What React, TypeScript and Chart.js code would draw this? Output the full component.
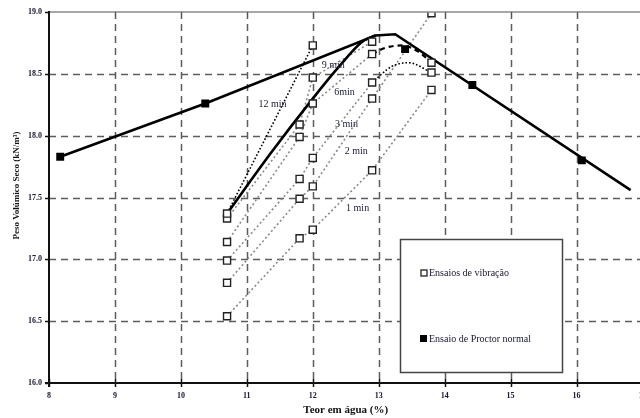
import React, { useEffect, useRef } from "react";
import { Chart, registerables } from "chart.js";

Chart.register(...registerables);

// ---------- data ----------
const xTicks = [8, 9, 10, 11, 12, 13, 14, 15, 16, 17];
const yTicks = [16.0, 16.5, 17.0, 17.5, 18.0, 18.5, 19.0];

const xTitle = "Teor em água (%)";
const yTitle = "Peso Volúmico Seco (kN/m³)";
const legendLabels = ["Ensaios de vibração", "Ensaio de Proctor normal"];

// Ensaio de Proctor normal (points and curve)
const proctorX = [8.17, 10.37, 13.4, 14.42, 16.08];
const proctorY = [17.83, 18.26, 18.7, 18.41, 17.8];
const proctorCurveX = [8.17, 10.37, 12.95, 13.25, 16.82];
const proctorCurveY = [17.83, 18.26, 18.81, 18.82, 17.56];

// thick curve joining the vibration optimum
const envelopeX = [10.7, 11.35, 12.0, 12.4, 12.75, 12.95];
const envelopeY = [17.37, 17.85, 18.3, 18.56, 18.76, 18.81];

// Ensaios de vibração
const min1X = [10.7, 11.8, 12.0, 12.9, 13.8];
const min1Y = [16.54, 17.17, 17.24, 17.72, 18.37];
const min2X = [10.7, 11.8, 12.0, 12.9, 13.8];
const min2Y = [16.81, 17.49, 17.59, 18.3, 18.99];
const min3X = [10.7, 11.8, 12.0, 12.9, 13.8];
const min3Y = [16.99, 17.65, 17.82, 18.43, 18.51];
const min3FitX = [12.9, 13.2, 13.45, 13.8];
const min3FitY = [18.43, 18.56, 18.59, 18.51];
const min6X = [10.7, 11.8, 12.0, 12.9, 13.8];
const min6Y = [17.14, 17.99, 18.26, 18.66, 18.59];
const min6FitX = [12.9, 13.1, 13.35, 13.6, 13.8];
const min6FitY = [18.66, 18.71, 18.73, 18.68, 18.59];
const min9X = [10.7, 11.8, 12.0, 12.9];
const min9Y = [17.33, 18.09, 18.47, 18.76];
const min12X = [10.7, 12.0];
const min12Y = [17.37, 18.73];

const curveLabels = ["12 min", "9 min", "6min", "3 min", "2 min", "1 min"];
const curveLabelX = [11.39, 12.31, 12.48, 12.51, 12.66, 12.68];
const curveLabelY = [18.25, 18.57, 18.35, 18.09, 17.87, 17.41];

// ---------- helpers ----------
const pts = (xs: number[], ys: number[]) => xs.map((x, i) => ({ x, y: ys[i] }));

const lineDs = (xs: number[], ys: number[], color: string, dash: number[], width: number, smooth = false) => ({
  data: pts(xs, ys),
  showLine: true,
  borderColor: color,
  borderWidth: width,
  borderDash: dash,
  borderCapStyle: "butt",
  pointRadius: 0,
  pointHoverRadius: 0,
  tension: smooth ? 0.4 : 0,
  cubicInterpolationMode: smooth ? "monotone" : "default",
  fill: false,
});

const SERIF = "'Liberation Serif', 'DejaVu Serif', serif";

const decor = {
  id: "decor",
  beforeDatasetsDraw(chart: any) {
    const { ctx, chartArea: a, scales } = chart;
    const x = scales.x;
    const y = scales.y;
    ctx.save();
    ctx.strokeStyle = "#5c5c5c";
    ctx.lineWidth = 1.5;
    ctx.setLineDash([7, 5]);
    for (const v of xTicks) {
      if (v <= xTicks[0]) continue;
      const px = Math.round(x.getPixelForValue(v)) + 0.5;
      ctx.beginPath();
      ctx.moveTo(px, a.top);
      ctx.lineTo(px, a.bottom);
      ctx.stroke();
    }
    for (const v of yTicks) {
      if (v <= yTicks[0] || v >= yTicks[yTicks.length - 1]) continue;
      const py = Math.round(y.getPixelForValue(v)) + 0.5;
      ctx.beginPath();
      ctx.moveTo(a.left, py);
      ctx.lineTo(a.right, py);
      ctx.stroke();
    }
    ctx.restore();
  },
  afterDatasetsDraw(chart: any) {
    const { ctx, chartArea: a, scales } = chart;
    const x = scales.x;
    const y = scales.y;
    ctx.save();
    ctx.setLineDash([]);

    // top border (gray) with inner ticks
    ctx.strokeStyle = "#8a8a8a";
    ctx.lineWidth = 1.5;
    ctx.beginPath();
    ctx.moveTo(a.left, a.top);
    ctx.lineTo(a.right, a.top);
    ctx.stroke();
    ctx.strokeStyle = "#555";
    ctx.lineWidth = 1;
    for (const v of xTicks) {
      const px = Math.round(x.getPixelForValue(v)) + 0.5;
      ctx.beginPath();
      ctx.moveTo(px, a.top);
      ctx.lineTo(px, a.top + 5);
      ctx.stroke();
    }

    // left axis
    ctx.strokeStyle = "#111";
    ctx.lineWidth = 2;
    ctx.beginPath();
    ctx.moveTo(a.left, a.top - 1);
    ctx.lineTo(a.left, a.bottom + 4);
    ctx.stroke();
    ctx.lineWidth = 1.5;
    for (const v of yTicks) {
      const py = Math.round(y.getPixelForValue(v)) + 0.5;
      ctx.beginPath();
      ctx.moveTo(a.left - 4, py);
      ctx.lineTo(a.left, py);
      ctx.stroke();
    }
    // bottom axis
    ctx.lineWidth = 2;
    ctx.beginPath();
    ctx.moveTo(a.left - 4, a.bottom);
    ctx.lineTo(a.right + 10, a.bottom);
    ctx.stroke();
    ctx.lineWidth = 1.5;
    for (const v of xTicks) {
      const px = Math.round(x.getPixelForValue(v)) + 0.5;
      ctx.beginPath();
      ctx.moveTo(px, a.bottom - 4);
      ctx.lineTo(px, a.bottom + 4);
      ctx.stroke();
    }

    // tick labels
    ctx.fillStyle = "#151530";
    ctx.font = `bold 8px ${SERIF}`;
    ctx.textAlign = "right";
    ctx.textBaseline = "middle";
    for (const v of yTicks) {
      ctx.fillText(v.toFixed(1), a.left - 7, y.getPixelForValue(v));
    }
    ctx.textAlign = "center";
    for (const v of xTicks) {
      ctx.fillText(String(v), x.getPixelForValue(v), a.bottom + 13);
    }

    // axis titles
    ctx.fillStyle = "#111";
    ctx.font = `bold 11px ${SERIF}`;
    ctx.fillText(xTitle, (a.left + a.right) / 2, a.bottom + 27);
    ctx.save();
    ctx.translate(17, (a.top + a.bottom) / 2 - 12);
    ctx.rotate(-Math.PI / 2);
    ctx.font = `bold 9px ${SERIF}`;
    ctx.fillText(yTitle, 0, 0);
    ctx.restore();

    // curve labels
    ctx.font = `10px ${SERIF}`;
    ctx.fillStyle = "#1a1a3a";
    ctx.textAlign = "center";
    ctx.textBaseline = "middle";
    curveLabels.forEach((t, i) => {
      ctx.fillText(t, x.getPixelForValue(curveLabelX[i]), y.getPixelForValue(curveLabelY[i]));
    });

    // legend box
    const bx = 400, by = 239, bw = 162, bh = 133;
    ctx.fillStyle = "#fff";
    ctx.fillRect(bx, by, bw, bh);
    ctx.strokeStyle = "#444";
    ctx.lineWidth = 1.5;
    ctx.strokeRect(bx + 0.5, by + 0.5, bw, bh);
    // items
    ctx.lineWidth = 1.3;
    ctx.strokeStyle = "#222";
    ctx.fillStyle = "#fff";
    ctx.fillRect(421, 270, 6, 6);
    ctx.strokeRect(421, 270, 6, 6);
    ctx.fillStyle = "#000";
    ctx.fillRect(420, 335, 7, 7);
    ctx.fillStyle = "#151530";
    ctx.font = `10px ${SERIF}`;
    ctx.textAlign = "left";
    ctx.fillText(legendLabels[0], 429, 273);
    ctx.fillText(legendLabels[1], 429, 339);

    ctx.restore();
  },
};

export default function App() {
  const ref = useRef<HTMLCanvasElement | null>(null);

  useEffect(() => {
    const canvas = ref.current;
    if (!canvas) return;
    const gray = "#8a8a8a";
    const vibPoints = [
      ...pts(min1X, min1Y),
      ...pts(min2X, min2Y),
      ...pts(min3X, min3Y),
      ...pts(min6X, min6Y),
      ...pts(min9X, min9Y),
      ...pts(min12X, min12Y),
    ];
    const chart = new Chart(canvas, {
      type: "scatter",
      data: {
        datasets: [
          {
            data: pts(proctorX, proctorY),
            pointStyle: "rect",
            pointRadius: 5.6,
            pointBackgroundColor: "#000",
            pointBorderColor: "#000",
            pointBorderWidth: 0,
            showLine: false,
          },
          {
            data: vibPoints,
            pointStyle: "rect",
            pointRadius: 5,
            pointBackgroundColor: "#fff",
            pointBorderColor: "#222",
            pointBorderWidth: 1.4,
            showLine: false,
          },
          lineDs(proctorCurveX, proctorCurveY, "#000", [], 2.6),
          lineDs(envelopeX, envelopeY, "#000", [], 2.6, true),
          lineDs(min12X, min12Y, "#000", [1.6, 2], 1.6),
          lineDs(min6FitX, min6FitY, "#000", [5, 4], 2.2, true),
          lineDs(min3FitX, min3FitY, "#000", [1.6, 2], 1.6, true),
          lineDs(min9X, min9Y, gray, [2, 2.5], 1.6),
          lineDs(min6X.slice(0, 4), min6Y.slice(0, 4), gray, [2, 2.5], 1.6),
          lineDs(min3X.slice(0, 4), min3Y.slice(0, 4), gray, [2, 2.5], 1.6),
          lineDs(min2X, min2Y, gray, [2, 2.5], 1.6),
          lineDs(min1X, min1Y, gray, [2, 2.5], 1.6),
        ] as any,
      },
      options: {
        responsive: false,
        animation: false,
        events: [],
        layout: { padding: { left: 49, top: 12, right: 17.5, bottom: 35 } },
        scales: {
          x: { type: "linear", min: 8, max: 17, display: false },
          y: { type: "linear", min: 16, max: 19, display: false },
        },
        plugins: {
          legend: { display: false },
          tooltip: { enabled: false },
        },
      },
      plugins: [decor],
    });
    return () => chart.destroy();
  }, []);

  return (
    <div
      style={{
        position: "fixed",
        left: 0,
        top: 0,
        width: 640,
        height: 418,
        overflow: "hidden",
        background: "#fff",
      }}
    >
      <canvas ref={ref} width={660} height={418} style={{ width: 660, height: 418, display: "block" }} />
    </div>
  );
}
